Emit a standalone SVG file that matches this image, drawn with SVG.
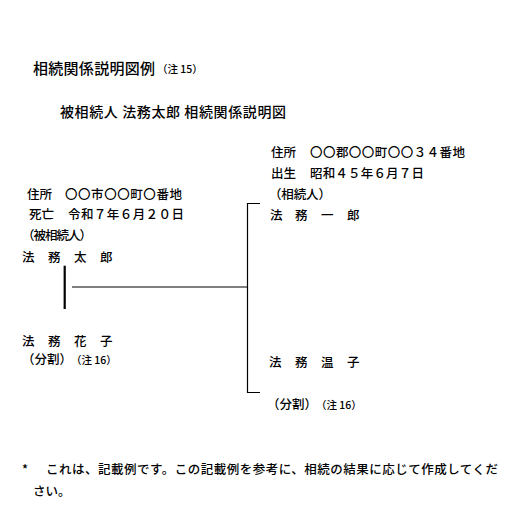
<svg xmlns="http://www.w3.org/2000/svg" width="530" height="517" viewBox="0 0 530 517">
<style>
text{font-family:"Noto Sans CJK JP","Noto Sans CJK SC",sans-serif;fill:#000;font-size:12.5px;font-weight:500}
.t{font-size:15px}
.s{font-size:14px}
.n{font-size:10.5px}
.ln{stroke:#000;stroke-width:1.2;fill:none}
</style>
<rect width="530" height="517" fill="#fff"/>
<g id="title">
<text class="t" x="33" y="74" textLength="122">相続関係説明図例</text>
<text class="n" x="157" y="73">（注 15）</text>
</g>
<g id="subtitle">
<text class="s" x="60" y="117" textLength="226">被相続人 法務太郎 相続関係説明図</text>
</g>
<g id="decedent">
<text x="27" y="199">住所</text>
<text x="65" y="199" textLength="117">〇〇市〇〇町〇番地</text>
<text x="29" y="219">死亡</text>
<text x="68" y="219" textLength="116">令和７年６月２０日</text>
<text x="22" y="240" textLength="70">（被相続人）</text>
<text x="22 48 74 100" y="262">法務太郎</text>
</g>
<g id="spouse">
<text x="22 48 74 100" y="346">法務花子</text>
<text x="22" y="364">（分割）</text>
<text class="n" x="71" y="364">（注 16）</text>
</g>
<g id="heir1">
<text x="271" y="157">住所</text>
<text x="310" y="157" textLength="155">〇〇郡〇〇町〇〇３４番地</text>
<text x="271" y="178">出生</text>
<text x="310" y="178" textLength="114">昭和４５年６月７日</text>
<text x="269" y="199" textLength="62">（相続人）</text>
<text x="270 295 321 347" y="220">法務一郎</text>
</g>
<g id="heir2">
<text x="269 295 321 347" y="367">法務温子</text>
<text x="267" y="409">（分割）</text>
<text class="n" x="316" y="409">（注 16）</text>
</g>
<g id="connectors">
<line x1="64.7" y1="265.7" x2="64.7" y2="309" stroke="#000" stroke-width="2.2"/>
<line class="ln" x1="72" y1="287" x2="247.5" y2="287"/>
<polyline class="ln" points="260,203.5 247.5,203.5 247.5,392.5 260,392.5"/>
</g>
<g id="footer">
<text x="22" y="474">*</text>
<text x="46" y="474" textLength="452">これは、記載例です。この記載例を参考に、相続の結果に応じて作成してくだ</text>
<text x="33" y="496">さい。</text>
</g>
</svg>
